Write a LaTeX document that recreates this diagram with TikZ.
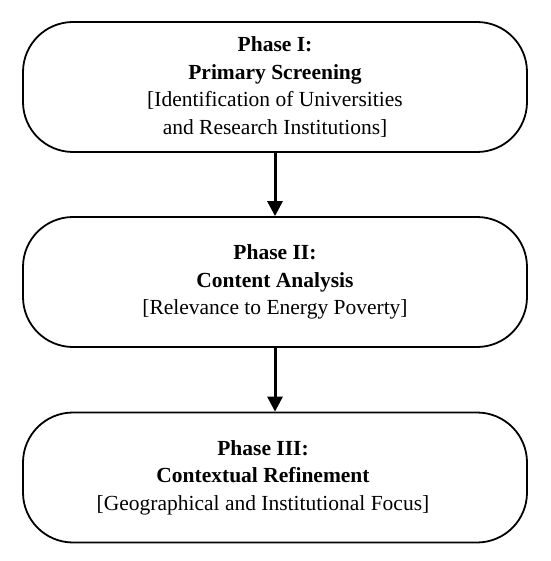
\documentclass[tikz,border=0pt]{standalone}
\usepackage{fontspec}
\setmainfont{Liberation Serif}
\usetikzlibrary{arrows.meta}
\begin{document}
\begin{tikzpicture}[x=1pt,y=-1pt,
  phasetext/.style={align=center,font=\fontsize{21.5}{27.5}\selectfont,inner sep=0pt},
  phase/.style={phasetext,draw=black,line width=1.8pt,rounded corners=50pt,minimum width=504pt,minimum height=130pt},
  flow/.style={line width=3pt,-{Triangle[length=15pt,width=15pt]}}]
\useasboundingbox (0,0) rectangle (550,561);
\node[phase] (p1) at (275,87) {\textbf{Phase I:}\\ \textbf{Primary Screening}\\ {[}Identification of Universities\\ and Research Institutions{]}};
\node[phase] (p2) at (275,282) {\textbf{Phase II:}\\ \textbf{Content Analysis}\\ {[}Relevance to Energy Poverty{]}};
\node[phase] (p3) at (275,477.5) {};
\node[phasetext] (t3) at ([xshift=-12pt]p3.center) {\textbf{Phase III:}\\ \textbf{Contextual Refinement}\\ {[}Geographical and Institutional Focus{]}};
\draw[flow] (p1.south) -- (p2.north);
\draw[flow] (p2.south) -- (p3.north);
\end{tikzpicture}
\end{document}
